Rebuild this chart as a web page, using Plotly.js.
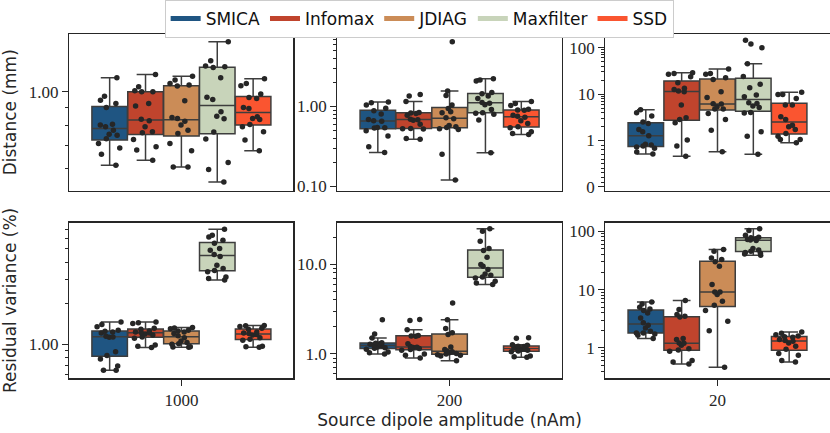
<!DOCTYPE html>
<html><head><meta charset="utf-8">
<script src="https://cdn.plot.ly/plotly-3.0.1.min.js"></script>
<style>html,body{margin:0;padding:0;background:#fff}#chart{width:830px;height:433px}</style>
</head><body><div id="chart"></div>
<script>
const methods = ['SMICA','Infomax','JDIAG','Maxfilter','SSD'];
const colors = ['#1f5582','#c0442d','#cb8c57','#c8d4ba','#fa5530'];
const amplitudes = ['1000','200','20'];

// Distance (mm), 1000 nAm
const dist1000SMICA = [0.613,0.660,0.688,0.709,0.731,0.748,0.754,0.774,0.792,0.802,0.806,0.901,0.925,0.946,0.970,1.098];
const dist1000Infomax = [0.634,0.678,0.693,0.728,0.761,0.766,0.792,0.824,0.833,0.909,0.925,1.000,1.000,1.007,1.034,1.123];
const dist1000JDIAG = [0.606,0.606,0.675,0.708,0.757,0.774,0.801,0.822,0.837,0.843,0.942,1.039,1.046,1.057,1.081,1.110];
const dist1000Maxfilter = [0.548,0.596,0.624,0.730,0.765,0.835,0.850,0.875,0.950,0.965,1.098,1.175,1.182,1.187,1.230,1.396];
const dist1000SSD = [0.675,0.725,0.766,0.792,0.804,0.832,0.837,0.847,0.895,0.901,0.957,0.963,0.985,1.041,1.057,1.091];
// Distance (mm), 200 nAm
const dist200SMICA = [0.265,0.312,0.425,0.495,0.535,0.540,0.545,0.650,0.660,0.687,0.801,0.880,0.950,1.039,1.112,1.133];
const dist200Infomax = [0.389,0.397,0.520,0.525,0.530,0.600,0.673,0.680,0.690,0.778,0.817,0.830,0.840,1.155,1.348,1.414];
const dist200JDIAG = [0.120,0.252,0.514,0.525,0.545,0.556,0.578,0.700,0.721,0.833,0.857,0.944,1.040,1.374,1.557,6.48];
const dist200Maxfilter = [0.262,0.674,0.800,0.820,0.835,0.917,1.050,1.100,1.120,1.260,1.348,1.440,1.500,2.080,2.141,2.224];
const dist200SSD = [0.445,0.458,0.481,0.540,0.556,0.612,0.661,0.730,0.755,0.778,0.895,0.899,0.920,1.029,1.091,1.155];
// Distance (mm), 20 nAm (symlog axis)
const dist20SMICA = [0.71,0.75,0.83,0.86,0.88,0.90,0.92,1.26,1.54,1.73,2.33,2.5,3.35,3.95,4.6];
const dist20Infomax = [0.662,0.878,1.02,2.41,2.84,3.08,5.79,11.2,11.6,12.6,13.3,17.6,23.7,26.6,27.9,28.9];
const dist20JDIAG = [0.755,1.67,2.84,3.83,4.74,4.74,5.33,6.09,6.2,8.47,11.2,20.7,22.5,26.6,27.9,34.7];
const dist20Maxfilter = [0.705,1.24,1.54,3.9,4.0,5.15,5.51,6.29,6.50,8.75,9.52,13.7,16.2,24,45,100,120,145];
const dist20SSD = [0.95,1.05,1.05,1.24,1.42,1.73,1.97,2.14,2.84,3.24,5.79,5.79,8.06,9.84,9.84,10.9];
// Residual variance (%), 1000 nAm
const rv1000SMICA = [0.645,0.645,0.694,0.78,0.83,0.884,1.125,1.13,1.145,1.210,1.231,1.245,1.27,1.346,1.400,1.457];
const rv1000Infomax = [0.95,0.97,0.99,1.11,1.13,1.17,1.19,1.21,1.22,1.23,1.25,1.29,1.31,1.42,1.44,1.457];
const rv1000JDIAG = [0.951,0.955,0.96,1.00,1.012,1.03,1.06,1.12,1.155,1.20,1.23,1.25,1.27,1.30,1.32,1.331];
const rv1000Maxfilter = [2.96,3.04,3.12,3.40,3.48,3.6,3.8,4.4,4.56,4.9,5.04,5.5,5.8,6.13,6.31,6.98];
const rv1000SSD = [0.951,0.96,0.97,1.07,1.09,1.12,1.17,1.18,1.20,1.21,1.23,1.29,1.31,1.35,1.37,1.377];
// Residual variance (%), 200 nAm
const rv200SMICA = [1.0,1.03,1.05,1.13,1.16,1.17,1.20,1.23,1.25,1.28,1.30,1.32,1.335,1.508,1.67,2.41];
const rv200Infomax = [0.902,0.97,1.0,1.10,1.12,1.15,1.18,1.19,1.21,1.30,1.58,1.59,1.61,1.867,2.36,2.42];
const rv200JDIAG = [0.843,0.95,0.97,0.98,1.0,1.01,1.03,1.06,1.08,1.12,1.20,1.65,1.72,1.92,2.41,3.70];
const rv200Maxfilter = [5.93,6.19,6.46,7.04,7.2,7.54,7.80,8.72,9.5,9.91,12.0,14.2,15.0,18.1,23.3,24.8];
const rv200SSD = [0.918,0.93,0.95,1.06,1.08,1.10,1.12,1.14,1.16,1.17,1.21,1.22,1.25,1.27,1.50,1.52];
// Residual variance (%), 20 nAm
const rv20SMICA = [1.45,1.65,1.74,1.81,1.81,1.93,2.20,2.45,2.7,3.27,3.98,4.4,4.65,4.98,5.68,6.14];
const rv20Infomax = [0.532,0.575,0.607,0.88,0.92,0.974,1.11,1.2,1.22,1.39,1.45,3.4,3.49,3.73,4.54,6.48];
const rv20JDIAG = [0.466,1.98,2.87,4.37,5.39,6.31,8.21,9.12,9.12,12.2,25.1,30,32.7,34.9,45.4,48.5];
const rv20Maxfilter = [38.8,40.8,42.0,43.1,45.4,47.8,50.4,69,71,72,74,77,79,85,103,110];
const rv20SSD = [0.575,0.607,0.749,0.80,0.95,1.07,1.22,1.30,1.336,1.39,1.52,1.56,1.61,1.69,1.78,1.88];

// tick labels
const ticksP1 = {vals:[1], text:['1.00'], minor:[0.6,0.7,0.8,0.9]};
const ticksP2 = {vals:[0.1,1], text:['0.10','1.00'], minor:[0.2,0.3,0.4,0.5,0.6,0.7,0.8,0.9,2,3,4,5,6,7,8]};
const ticksP3 = {vals:[0,1,10,100], text:['0','1','10','100'], minor:[0.1,0.2,0.3,0.4,0.5,0.6,0.7,0.8,0.9,2,3,4,5,6,7,8,9,20,30,40,50,60,70,80,90]};
const ticksP4 = {vals:[1], text:['1.00'], minor:[0.6,0.7,0.8,0.9,2,3,4,5,6,7]};
const ticksP5 = {vals:[1,10], text:['1.0','10.0'], minor:[0.6,0.7,0.8,0.9,2,3,4,5,6,7,8,9,20]};
const ticksP6 = {vals:[1,10,100], text:['1','10','100'], minor:[0.4,0.5,0.6,0.7,0.8,0.9,2,3,4,5,6,7,8,9,20,30,40,50,60,70,80,90]};

// symlog (linthresh = 1) transform for the 20 nAm distance panel
const symlog = v => v <= 1 ? v : 1 + Math.log10(v);
const identity = v => v;

const panels = [
  {data:[dist1000SMICA,dist1000Infomax,dist1000JDIAG,dist1000Maxfilter,dist1000SSD], amp:'1000', type:'log', range:[-0.2857,0.1673], ticks:ticksP1},
  {data:[dist200SMICA,dist200Infomax,dist200JDIAG,dist200Maxfilter,dist200SSD], amp:'200', type:'log', range:[-1.054,0.908], ticks:ticksP2},
  {data:[dist20SMICA,dist20Infomax,dist20JDIAG,dist20Maxfilter,dist20SSD], amp:'20', type:'symlog', range:[-0.079,3.295], ticks:ticksP3},
  {data:[rv1000SMICA,rv1000Infomax,rv1000JDIAG,rv1000Maxfilter,rv1000SSD], amp:'1000', type:'log', range:[-0.249,0.893], ticks:ticksP4},
  {data:[rv200SMICA,rv200Infomax,rv200JDIAG,rv200Maxfilter,rv200SSD], amp:'200', type:'log', range:[-0.271,1.465], ticks:ticksP5},
  {data:[rv20SMICA,rv20Infomax,rv20JDIAG,rv20Maxfilter,rv20SSD], amp:'20', type:'log', range:[-0.52,2.149], ticks:ticksP6}
];

function quant(s,p){const pos=(s.length-1)*p;const lo=Math.floor(pos),hi=Math.ceil(pos);return s[lo]+(s[hi]-s[lo])*(pos-lo);}
function boxStats(vals){
  const s=[...vals].sort((a,b)=>a-b);
  const q1=quant(s,.25), med=quant(s,.5), q3=quant(s,.75), iqr=q3-q1;
  const lo=s.find(v=>v>=q1-1.5*iqr);
  const hi=[...s].reverse().find(v=>v<=q3+1.5*iqr);
  return {q1,med,q3,lo,hi};
}

const DARK='#262626', EDGE='#3d3d3d';
const tickFont={family:'Liberation Serif, DejaVu Serif, serif', size:17, color:DARK};
const titleFont={family:'DejaVu Sans, sans-serif', size:17, color:DARK};
const xDom=[[0.0835,0.3536],[0.4066,0.6767],[0.7295,0.9994]];
const yDom=[[0.560,0.9215],[0.1263,0.4861]];

const traces=[];
const layout={
  width:830,height:433,margin:{l:0,r:0,t:0,b:0,pad:0},
  paper_bgcolor:'#fff',plot_bgcolor:'#fff',
  boxmode:'group',boxgap:0.2,boxgroupgap:0.01,
  showlegend:true,
  legend:{orientation:'h',x:0.505,xanchor:'center',y:1.0,yanchor:'top',
    bgcolor:'#fff',bordercolor:'#cccccc',borderwidth:1,
    font:{family:'DejaVu Sans, sans-serif',size:17,color:'#111'},itemwidth:30,tracegroupgap:0},
  font:{family:'DejaVu Sans, sans-serif',color:DARK}
};

// legend swatches
methods.forEach((m,i)=>{
  traces.push({type:'scatter',mode:'lines',x:[null],y:[null],name:m,line:{color:colors[i],width:5},
    xaxis:'x',yaxis:'y',showlegend:true,hoverinfo:'skip'});
});

const pointTraces=[];
panels.forEach((p,k)=>{
  const n=k+1, row=Math.floor(k/3), col=k%3;
  const xa='x'+(n>1?n:''), ya='y'+(n>1?n:'');
  const xName='xaxis'+(n>1?n:''), yName='yaxis'+(n>1?n:'');
  const tf = p.type==='symlog' ? symlog : identity;
  layout[xName]={domain:xDom[col],anchor:ya,type:'category',range:[-0.5,0.5],
    showline:true,mirror:true,linecolor:DARK,linewidth:1.3,showgrid:false,zeroline:false,
    ticks: row===1?'outside':'',ticklen:6,tickwidth:1,tickcolor:DARK,
    showticklabels: row===1, tickfont:tickFont, fixedrange:true};
  const yax={domain:yDom[row],anchor:xa,range:p.range,type:p.type==='log'?'log':'linear',
    showline:true,mirror:true,linecolor:DARK,linewidth:1.3,showgrid:false,zeroline:false,
    ticks:'outside',ticklen:6,tickwidth:1,tickcolor:DARK,tickfont:tickFont,
    tickmode:'array',tickvals:p.ticks.vals.map(tf),ticktext:p.ticks.text,fixedrange:true,
    minor:{tickmode:'array',tickvals:p.ticks.minor.map(tf),ticks:'outside',ticklen:3.5,tickwidth:1,tickcolor:DARK,showgrid:false}};
  if(k===0) yax.title={text:'Distance (mm)',font:titleFont,standoff:12};
  if(k===3) yax.title={text:'Residual variance (%)',font:titleFont,standoff:12};
  if(k===4) layout[xName].title={text:'Source dipole amplitude (nAm)',font:titleFont,standoff:5};
  layout[yName]=yax;

  p.data.forEach((vals,i)=>{
    const common={type:'box',xaxis:xa,yaxis:ya,name:methods[i],showlegend:false,orientation:'v',
      hoverinfo:'skip',offsetgroup:methods[i],alignmentgroup:'panel'+n};
    const st=boxStats(vals);
    traces.push(Object.assign({},common,{
      x:[p.amp], q1:[tf(st.q1)], median:[tf(st.med)], q3:[tf(st.q3)],
      lowerfence:[tf(st.lo)], upperfence:[tf(st.hi)],
      fillcolor:colors[i], line:{color:EDGE,width:1.5}, boxpoints:false, whiskerwidth:0.5
    }));
    pointTraces.push(Object.assign({},common,{
      x:vals.map(()=>p.amp), y:vals.map(tf),
      fillcolor:'rgba(0,0,0,0)', line:{color:'rgba(0,0,0,0)',width:0},
      boxpoints:'all',jitter:0.8,pointpos:0,whiskerwidth:0,
      marker:{color:DARK,size:5.5,opacity:1,line:{width:0}}
    }));
  });
});
pointTraces.forEach(t=>traces.push(t));

Plotly.newPlot('chart',traces,layout,{displayModeBar:false,staticPlot:true});
</script>
</body></html>
